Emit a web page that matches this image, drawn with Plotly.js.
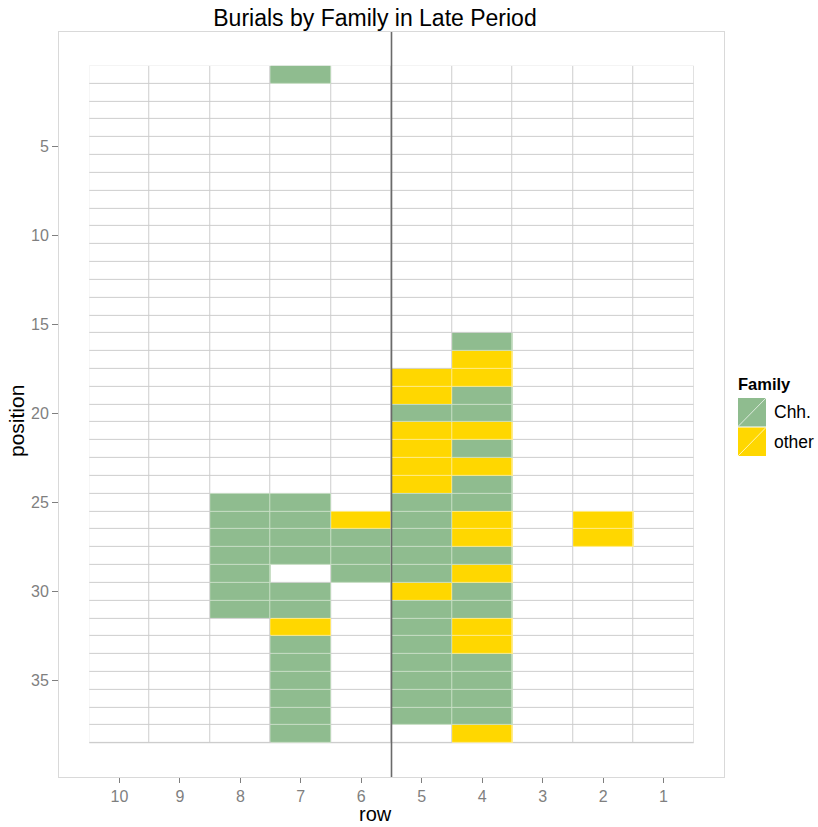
<!DOCTYPE html>
<html>
<head>
<meta charset="utf-8">
<script src="https://cdn.plot.ly/plotly-3.0.1.min.js"></script>
<style>html,body{margin:0;padding:0;background:#fff;}#chart{width:818px;height:827px;}</style>
</head>
<body>
<div id="chart"></div>
<script>
// ---- data ----
var rowCategories = [1, 2, 3, 4, 5, 6, 7, 8, 9, 10];
var positionCategories = [1,2,3,4,5,6,7,8,9,10,11,12,13,14,15,16,17,18,19,20,21,22,23,24,25,26,27,28,29,30,31,32,33,34,35,36,37,38];
var positionTicks = [5, 10, 15, 20, 25, 30, 35];
var familyNames = ["Chh.", "other"];

var chhRow = [7, 4, 4, 4, 5, 4, 4, 8, 7, 5, 4, 8, 7, 5, 8, 7, 6, 5, 8, 7, 6, 5, 4, 8, 6, 5, 8, 7, 4, 8, 7, 5, 4, 5, 7, 5, 7, 5, 4, 7, 5, 4, 7, 5, 4, 7, 5, 4, 7];
var chhPos = [1, 16, 19, 20, 20, 22, 24, 25, 25, 25, 25, 26, 26, 26, 27, 27, 27, 27, 28, 28, 28, 28, 28, 29, 29, 29, 30, 30, 30, 31, 31, 31, 31, 32, 33, 33, 34, 34, 34, 35, 35, 35, 36, 36, 36, 37, 37, 37, 38];

var otherRow = [4, 5, 4, 5, 5, 4, 5, 5, 4, 5, 6, 4, 2, 4, 2, 4, 5, 7, 4, 4, 4];
var otherPos = [17, 18, 18, 19, 21, 21, 22, 23, 23, 24, 26, 26, 26, 27, 27, 29, 30, 32, 32, 33, 38];

// ---- build grids ----
var nR = rowCategories.length, nP = positionCategories.length;
var baseZ = [], famZ = [];
for (var i = 0; i < nP; i++) {
  baseZ.push([]); famZ.push([]);
  for (var j = 0; j < nR; j++) { baseZ[i].push(0); famZ[i].push(null); }
}
function put(rows, pos, code) {
  for (var k = 0; k < rows.length; k++) {
    famZ[positionCategories.indexOf(pos[k])][rowCategories.indexOf(rows[k])] = code;
  }
}
put(chhRow, chhPos, 1);
put(otherRow, otherPos, 2);

var GREEN = "#8FBC8F", GOLD = "#FFD700";
var famScale = [[0, GREEN], [0.5, GREEN], [0.5, GOLD], [1, GOLD]];
var lightScale = [[0, "#C9DFC6"], [0.5, "#C9DFC6"], [0.5, "#FFEC8A"], [1, "#FFEC8A"]];

var traces = [
  {type: "heatmap", x: rowCategories, y: positionCategories, z: baseZ,
   colorscale: [[0, "#ffffff"], [1, "#ffffff"]], showscale: false, xgap: 1, ygap: 1, hoverinfo: "skip"},
  {type: "heatmap", x: rowCategories, y: positionCategories, z: famZ, zmin: 1, zmax: 2,
   colorscale: lightScale, showscale: false, hoverinfo: "skip"},
  {type: "heatmap", x: rowCategories, y: positionCategories, z: famZ, zmin: 1, zmax: 2,
   colorscale: famScale, showscale: false, xgap: 1, ygap: 1, hoverinfo: "skip"}
];

// ---- layout geometry helpers ----
var W = 818, H = 827, mL = 59, mR = 94, mT = 32, mB = 50;
var pw = W - mL - mR, ph = H - mT - mB;
function px2x(px) { return (px - mL) / pw; }
function py2y(py) { return (H - mB - py) / ph; }

var rMin = Math.min.apply(null, rowCategories) - 0.5, rMax = Math.max.apply(null, rowCategories) + 0.5;
var pMin = Math.min.apply(null, positionCategories) - 0.5, pMax = Math.max.apply(null, positionCategories) + 0.5;
var xExp = 0.05 * (rMax - rMin), yExp = 0.05 * (pMax - pMin);

var shapes = [
  {type: "rect", xref: "x", yref: "y", x0: rMin, x1: rMax, y0: pMin, y1: pMax,
   fillcolor: "#cdcdcd", line: {width: 0}, layer: "below"},
  {type: "line", xref: "x", yref: "paper", x0: 5.5, x1: 5.5, y0: 0, y1: 1,
   line: {color: "#6a6a6a", width: 1.6}}
];
var annotations = [
  {text: "row", xref: "paper", yref: "paper", x: px2x(375.5), y: py2y(814), showarrow: false,
   font: {size: 20, color: "#000"}, xanchor: "center", yanchor: "middle"},
  {text: "position", xref: "paper", yref: "paper", x: px2x(17), y: py2y(421), showarrow: false,
   textangle: -90, font: {size: 21, color: "#000"}, xanchor: "center", yanchor: "middle"},
  {text: "<b>Family</b>", xref: "paper", yref: "paper", x: px2x(735.5), y: py2y(384), showarrow: false,
   font: {size: 16.5, color: "#000"}, xanchor: "left", yanchor: "middle"}
];
var keyColors = [GREEN, GOLD];
for (var f = 0; f < familyNames.length; f++) {
  var kTop = 398 + f * 29.5, kBot = kTop + 28.5, kL = 738, kR = 766;
  shapes.push({type: "rect", xref: "paper", yref: "paper", x0: px2x(kL), x1: px2x(kR), y0: py2y(kBot), y1: py2y(kTop),
    fillcolor: keyColors[f], line: {width: 0}});
  shapes.push({type: "line", xref: "paper", yref: "paper", x0: px2x(kL), x1: px2x(kR), y0: py2y(kBot), y1: py2y(kTop),
    line: {color: "rgba(255,255,255,0.7)", width: 1}});
  annotations.push({text: familyNames[f], xref: "paper", yref: "paper", x: px2x(772), y: py2y((kTop + kBot) / 2),
    showarrow: false, xanchor: "left", yanchor: "middle", font: {size: 17.5, color: "#000"}});
}

var layout = {
  width: W, height: H,
  margin: {l: mL, r: mR, t: mT, b: mB, pad: 0},
  paper_bgcolor: "#ffffff", plot_bgcolor: "#ffffff",
  font: {family: "Liberation Sans, Arial, sans-serif", color: "#000"},
  title: {text: "Burials by Family in Late Period", x: 375 / W, xref: "container", xanchor: "center",
          y: 1 - 18 / H, yref: "container", yanchor: "middle", font: {size: 23, color: "#000"}},
  showlegend: false,
  xaxis: {range: [rMax + xExp, rMin - xExp], tickvals: rowCategories, ticks: "outside", ticklen: 5,
          tickcolor: "#7f7f7f", tickwidth: 1, tickfont: {size: 16, color: "#7f7f7f"},
          showgrid: false, zeroline: false, showline: true, mirror: true, linecolor: "#d9d9d9", linewidth: 1},
  yaxis: {range: [pMax + yExp, pMin - yExp], tickvals: positionTicks, ticks: "outside", ticklen: 6,
          tickcolor: "#7f7f7f", tickwidth: 1, tickfont: {size: 16, color: "#7f7f7f"},
          showgrid: false, zeroline: false, showline: true, mirror: true, linecolor: "#d9d9d9", linewidth: 1},
  shapes: shapes,
  annotations: annotations
};

Plotly.newPlot("chart", traces, layout, {displayModeBar: false, staticPlot: true});
</script>
</body>
</html>
